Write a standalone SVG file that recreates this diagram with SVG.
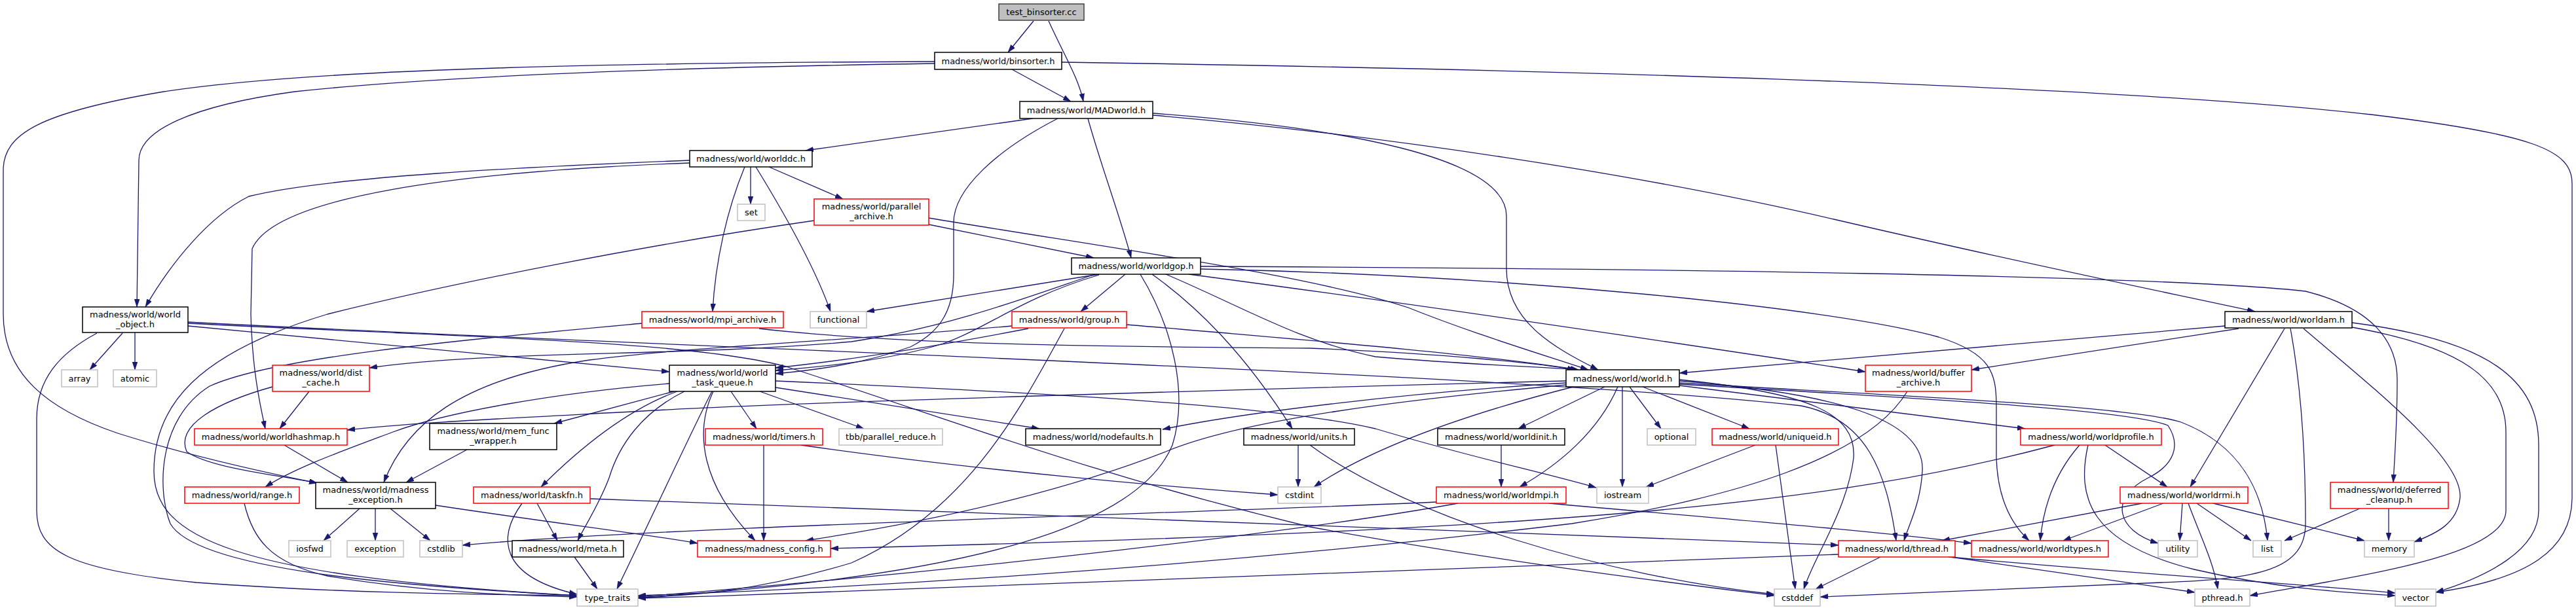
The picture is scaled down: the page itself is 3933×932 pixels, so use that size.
<svg xmlns="http://www.w3.org/2000/svg" width="3933" height="932" viewBox="0 0 3933 932">
<style>
.e{fill:none;stroke:#191970;stroke-width:1.3;marker-end:url(#a)}
.nb{fill:#fff;stroke:#000;stroke-width:1.5}
.nr{fill:#fff;stroke:#ff0000;stroke-width:1.5}
.ng{fill:#fff;stroke:#bfbfbf;stroke-width:1.5}
.nroot{fill:#bfbfbf;stroke:#404040;stroke-width:1.5}
text{font-family:"DejaVu Sans","Liberation Sans",sans-serif;font-size:13px;fill:#000;text-anchor:middle}
</style>
<defs>
<marker id="a" viewBox="0 0 12 8" refX="12" refY="4" markerWidth="12" markerHeight="8" markerUnits="userSpaceOnUse" orient="auto">
<path d="M0,0 L12,4 L0,8 z" fill="#191970" stroke="#191970" stroke-width="0.5"/>
</marker>
</defs>
<rect x="0" y="0" width="3933" height="932" fill="#fff"/>
<g id="edges">
<path class="e" d="M1578,32 L1539,80"/>
<path class="e" d="M1601,32 C1625,85 1647,120 1654,155"/>
<path class="e" d="M1545,106 L1635,155"/>
<path class="e" d="M1427,97 C1100,102 700,113 450,140 C290,162 212,200 212,245 L209,469"/>
<path class="e" d="M1427,94 C1000,96 500,102 250,140 C60,172 5,205 5,260 L5,480 C5,570 70,625 180,662 C300,700 420,725 484,738"/>
<path class="e" d="M1621,95 C2300,105 3200,128 3620,175 C3870,205 3927,230 3927,280 L3927,760 C3927,840 3860,885 3719,905"/>
<path class="e" d="M1577,181 L1230,230"/>
<path class="e" d="M1661,181 C1680,250 1710,330 1727,394"/>
<path class="e" d="M1615,181 C1520,230 1456,290 1456,340 L1456,420 C1456,480 1430,510 1390,530 C1320,555 1250,565 1184,571"/>
<path class="e" d="M1760,173 C2050,195 2300,240 2300,330 L2300,410 C2300,490 2370,530 2440,565"/>
<path class="e" d="M1760,176 C2100,205 2500,265 2800,335 C3100,405 3300,445 3443,476"/>
<path class="e" d="M1146,255 L1146,312"/>
<path class="e" d="M1174,255 L1287,304"/>
<path class="e" d="M1137,255 C1110,320 1092,400 1088,476"/>
<path class="e" d="M1154,255 C1200,330 1245,410 1268,476"/>
<path class="e" d="M1053,245 C800,255 500,270 380,300 C320,330 262,400 222,469"/>
<path class="e" d="M1053,249 C700,262 420,300 385,380 L383,480 C385,560 395,610 405,655"/>
<path class="e" d="M1418,343 L1670,394"/>
<path class="e" d="M1418,333 C1700,380 2000,420 2150,470 C2250,510 2350,540 2425,565"/>
<path class="e" d="M1243,337 C1000,372 700,430 500,480 C300,540 235,620 235,720 C235,820 350,880 881,910"/>
<path class="e" d="M1678,419 L1323,476"/>
<path class="e" d="M1672,419 C1580,450 1450,500 1300,522 C1050,545 750,535 564,562"/>
<path class="e" d="M1678,420 C1560,455 1510,500 1440,525 C1360,550 1260,560 1184,566"/>
<path class="e" d="M1718,419 L1650,476"/>
<path class="e" d="M1741,419 C1790,500 1815,600 1790,680 C1740,800 1500,880 974,913"/>
<path class="e" d="M1759,419 C1830,470 1900,540 1973,655"/>
<path class="e" d="M1780,419 C1900,470 1980,520 2100,545 C2250,558 2350,560 2410,565"/>
<path class="e" d="M1815,419 C2200,470 2600,530 2848,568"/>
<path class="e" d="M1833,407 C2500,410 3300,420 3520,445 C3620,470 3660,520 3660,580 C3660,650 3656,700 3654,737"/>
<path class="e" d="M1833,411 C2300,420 2800,470 2960,515 C3040,540 3048,570 3048,620 L3048,700 C3050,760 3070,800 3098,826"/>
<path class="e" d="M1720,496 C2000,520 2250,540 2410,565"/>
<path class="e" d="M1570,502 C1450,525 1300,550 1184,562"/>
<path class="e" d="M1545,498 C1300,520 1050,530 900,550 C700,580 620,650 586,737"/>
<path class="e" d="M1625,502 C1560,620 1480,780 1300,860 C1150,905 1050,910 974,913"/>
<path class="e" d="M1159,502 C1400,530 1800,530 2000,532 C2200,540 2350,555 2405,565"/>
<path class="e" d="M980,494 C700,520 420,545 320,590 C240,640 240,750 260,800 C300,870 600,895 881,910"/>
<path class="e" d="M187,509 L137,565"/>
<path class="e" d="M206,508 L206,565"/>
<path class="e" d="M148,509 C90,540 56,580 56,640 L56,780 C56,840 100,870 300,890 C500,905 700,908 881,910"/>
<path class="e" d="M287,498 L1022,568"/>
<path class="e" d="M287,492 C1000,530 2300,570 2750,620 C2850,640 2880,720 2895,826"/>
<path class="e" d="M287,494 C700,515 1050,520 1200,560 C1450,640 1650,720 2000,805 C2300,860 2550,890 2709,910"/>
<path class="e" d="M472,598 L427,655"/>
<path class="e" d="M416,591 C330,615 268,650 285,690 C320,715 420,725 484,738"/>
<path class="e" d="M434,680 L531,737"/>
<path class="e" d="M713,687 L620,737"/>
<path class="e" d="M373,769 C385,820 410,860 500,880 C650,905 780,910 881,912"/>
<path class="e" d="M549,777 L494,826"/>
<path class="e" d="M573,777 L573,826"/>
<path class="e" d="M596,777 L657,826"/>
<path class="e" d="M665,772 C850,800 980,815 1065,830"/>
<path class="e" d="M820,769 L851,826"/>
<path class="e" d="M797,769 C760,820 760,880 881,908"/>
<path class="e" d="M901,762 C1500,785 2400,815 2807,833"/>
<path class="e" d="M877,851 L912,900"/>
<path class="e" d="M1022,586 C850,600 680,630 600,660 C520,690 450,715 405,744"/>
<path class="e" d="M1029,598 L846,647"/>
<path class="e" d="M1034,598 C960,625 890,680 826,744"/>
<path class="e" d="M1045,598 C980,630 945,680 930,730 C915,770 895,800 882,826"/>
<path class="e" d="M1087,598 C1060,650 1000,780 942,900"/>
<path class="e" d="M1089,598 C1060,660 1070,740 1153,826"/>
<path class="e" d="M1116,598 L1155,655"/>
<path class="e" d="M1160,598 L1319,655"/>
<path class="e" d="M1184,592 L1587,655"/>
<path class="e" d="M1184,582 C1600,600 1950,620 2100,655 C2250,700 2350,720 2437,745"/>
<path class="e" d="M1166,680 L1166,826"/>
<path class="e" d="M1223,680 C1500,720 1800,745 1951,756"/>
<path class="e" d="M1982,680 L1982,744"/>
<path class="e" d="M2000,680 C2150,790 2450,880 2709,908"/>
<path class="e" d="M2450,591 L2318,655"/>
<path class="e" d="M2470,591 C2440,660 2380,710 2320,744"/>
<path class="e" d="M2477,591 L2477,744"/>
<path class="e" d="M2488,591 L2536,655"/>
<path class="e" d="M2508,591 L2671,655"/>
<path class="e" d="M2564,580 C2760,600 2835,630 2830,700 C2820,780 2770,850 2754,900"/>
<path class="e" d="M2564,582 C2800,600 2940,640 2935,720 C2932,770 2915,800 2907,826"/>
<path class="e" d="M2564,585 C2900,605 3250,620 3330,645 C3420,680 3455,750 3462,826"/>
<path class="e" d="M2564,587 C2900,607 3250,625 3310,650 C3330,680 3320,710 3280,730 C3220,760 3230,810 3295,830"/>
<path class="e" d="M2564,589 L3092,655"/>
<path class="e" d="M2391,582 C2000,592 1200,615 1000,627 C800,638 620,646 530,657"/>
<path class="e" d="M2391,585 C2150,600 1900,630 1775,656"/>
<path class="e" d="M2391,588 C2150,610 1900,640 1780,690 C1600,760 1400,800 1230,826"/>
<path class="e" d="M2402,591 C2250,630 2100,680 2006,744"/>
<path class="e" d="M2292,680 L2292,744"/>
<path class="e" d="M2680,680 L2513,744"/>
<path class="e" d="M2711,680 L2741,900"/>
<path class="e" d="M2193,767 C1800,785 1000,805 706,833"/>
<path class="e" d="M2226,769 C2000,810 1500,870 974,912"/>
<path class="e" d="M2365,769 C2600,790 2850,810 3010,830"/>
<path class="e" d="M3137,680 C2800,770 2400,810 1268,838"/>
<path class="e" d="M3175,680 C3140,720 3120,770 3115,826"/>
<path class="e" d="M3188,680 C3170,760 3190,830 3350,870 C3480,900 3580,905 3657,910"/>
<path class="e" d="M3214,680 L3309,744"/>
<path class="e" d="M3271,769 L2965,826"/>
<path class="e" d="M3303,769 L3150,826"/>
<path class="e" d="M3332,769 L3328,826"/>
<path class="e" d="M3341,769 C3360,820 3380,860 3386,900"/>
<path class="e" d="M3354,769 L3437,826"/>
<path class="e" d="M3379,769 L3610,826"/>
<path class="e" d="M3603,777 L3488,826"/>
<path class="e" d="M3647,777 L3647,826"/>
<path class="e" d="M3397,498 L2564,570"/>
<path class="e" d="M3418,502 L3010,565"/>
<path class="e" d="M3488,502 L3344,744"/>
<path class="e" d="M3497,502 C3515,600 3520,700 3520,800 C3520,870 3450,885 3300,890 C3100,900 2900,906 2779,912"/>
<path class="e" d="M3517,502 C3620,590 3760,700 3756,760 C3752,800 3720,815 3686,828"/>
<path class="e" d="M3591,500 C3760,530 3826,580 3826,660 L3826,780 C3826,850 3600,880 3435,910"/>
<path class="e" d="M3591,493 C3800,520 3876,580 3876,680 L3876,780 C3876,840 3800,880 3719,905"/>
<path class="e" d="M2871,851 L2772,900"/>
<path class="e" d="M2807,847 C2000,875 1500,900 974,914"/>
<path class="e" d="M2978,851 L3351,905"/>
<path class="e" d="M2975,851 C3300,880 3550,895 3657,906"/>
<path class="e" d="M2912,598 C2850,700 2650,760 2400,800 C1900,860 1400,895 974,910"/>
</g>
<g id="nodes">
<g id="n_test_binsorter"><rect class="nroot" x="1525" y="6" width="130" height="25"/><text x="1590" y="23">test_binsorter.cc</text></g>
<g id="n_binsorter"><rect class="nb" x="1427" y="80" width="194" height="26"/><text x="1524" y="97.5">madness/world/binsorter.h</text></g>
<g id="n_MADworld"><rect class="nb" x="1557" y="155" width="203" height="26"/><text x="1658.5" y="172.5">madness/world/MADworld.h</text></g>
<g id="n_worlddc"><rect class="nb" x="1053" y="230" width="187" height="25"/><text x="1146.5" y="247">madness/world/worlddc.h</text></g>
<g id="n_set"><rect class="ng" x="1126" y="312" width="42" height="25"/><text x="1147" y="329">set</text></g>
<g id="n_parallel_archive"><rect class="nr" x="1243" y="304" width="175" height="40"/><text x="1330.5" y="320">madness/world/parallel</text><text x="1330.5" y="335">_archive.h</text></g>
<g id="n_worldgop"><rect class="nb" x="1636" y="394" width="197" height="25"/><text x="1734.5" y="411">madness/world/worldgop.h</text></g>
<g id="n_world_object"><rect class="nb" x="126" y="469" width="161" height="39"/><text x="206.5" y="485">madness/world/world</text><text x="206.5" y="500">_object.h</text></g>
<g id="n_array"><rect class="ng" x="94" y="565" width="55" height="26"/><text x="121.5" y="582.5">array</text></g>
<g id="n_atomic"><rect class="ng" x="173" y="565" width="66" height="26"/><text x="206" y="582.5">atomic</text></g>
<g id="n_mpi_archive"><rect class="nr" x="980" y="476" width="216" height="25"/><text x="1088" y="493">madness/world/mpi_archive.h</text></g>
<g id="n_functional"><rect class="ng" x="1237" y="476" width="86" height="25"/><text x="1280" y="493">functional</text></g>
<g id="n_group"><rect class="nr" x="1545" y="476" width="175" height="25"/><text x="1632.5" y="493">madness/world/group.h</text></g>
<g id="n_worldam"><rect class="nb" x="3397" y="476" width="194" height="25"/><text x="3494" y="493">madness/world/worldam.h</text></g>
<g id="n_dist_cache"><rect class="nr" x="416" y="558" width="148" height="40"/><text x="490" y="574">madness/world/dist</text><text x="490" y="589">_cache.h</text></g>
<g id="n_world_task_queue"><rect class="nb" x="1022" y="558" width="162" height="40"/><text x="1103" y="574">madness/world/world</text><text x="1103" y="589">_task_queue.h</text></g>
<g id="n_world"><rect class="nb" x="2391" y="565" width="173" height="26"/><text x="2477.5" y="582.5">madness/world/world.h</text></g>
<g id="n_buffer_archive"><rect class="nr" x="2848" y="558" width="162" height="40"/><text x="2929" y="574">madness/world/buffer</text><text x="2929" y="589">_archive.h</text></g>
<g id="n_worldhashmap"><rect class="nr" x="297" y="655" width="233" height="25"/><text x="413.5" y="672">madness/world/worldhashmap.h</text></g>
<g id="n_mem_func_wrapper"><rect class="nb" x="656" y="647" width="194" height="40"/><text x="753" y="663">madness/world/mem_func</text><text x="753" y="678">_wrapper.h</text></g>
<g id="n_timers"><rect class="nr" x="1077" y="655" width="179" height="25"/><text x="1166.5" y="672">madness/world/timers.h</text></g>
<g id="n_parallel_reduce"><rect class="ng" x="1281" y="655" width="158" height="25"/><text x="1360" y="672">tbb/parallel_reduce.h</text></g>
<g id="n_nodefaults"><rect class="nb" x="1566" y="655" width="206" height="25"/><text x="1669" y="672">madness/world/nodefaults.h</text></g>
<g id="n_units"><rect class="nb" x="1899" y="655" width="169" height="25"/><text x="1983.5" y="672">madness/world/units.h</text></g>
<g id="n_worldinit"><rect class="nb" x="2195" y="655" width="194" height="25"/><text x="2292" y="672">madness/world/worldinit.h</text></g>
<g id="n_optional"><rect class="ng" x="2515" y="655" width="74" height="25"/><text x="2552" y="672">optional</text></g>
<g id="n_uniqueid"><rect class="nr" x="2614" y="655" width="193" height="25"/><text x="2710.5" y="672">madness/world/uniqueid.h</text></g>
<g id="n_worldprofile"><rect class="nr" x="3085" y="655" width="215" height="25"/><text x="3192.5" y="672">madness/world/worldprofile.h</text></g>
<g id="n_range"><rect class="nr" x="282" y="744" width="175" height="25"/><text x="369.5" y="761">madness/world/range.h</text></g>
<g id="n_madness_exception"><rect class="nb" x="482" y="737" width="183" height="40"/><text x="573.5" y="753">madness/world/madness</text><text x="573.5" y="768">_exception.h</text></g>
<g id="n_taskfn"><rect class="nr" x="723" y="744" width="178" height="25"/><text x="812" y="761">madness/world/taskfn.h</text></g>
<g id="n_cstdint"><rect class="ng" x="1951" y="744" width="66" height="25"/><text x="1984" y="761">cstdint</text></g>
<g id="n_worldmpi"><rect class="nr" x="2193" y="744" width="198" height="25"/><text x="2292" y="761">madness/world/worldmpi.h</text></g>
<g id="n_iostream"><rect class="ng" x="2438" y="744" width="79" height="25"/><text x="2477.5" y="761">iostream</text></g>
<g id="n_worldrmi"><rect class="nr" x="3237" y="744" width="195" height="25"/><text x="3334.5" y="761">madness/world/worldrmi.h</text></g>
<g id="n_deferred_cleanup"><rect class="nr" x="3558" y="737" width="180" height="40"/><text x="3648" y="753">madness/world/deferred</text><text x="3648" y="768">_cleanup.h</text></g>
<g id="n_iosfwd"><rect class="ng" x="441" y="826" width="64" height="25"/><text x="473" y="843">iosfwd</text></g>
<g id="n_exception"><rect class="ng" x="530" y="826" width="86" height="25"/><text x="573" y="843">exception</text></g>
<g id="n_cstdlib"><rect class="ng" x="641" y="826" width="65" height="25"/><text x="673.5" y="843">cstdlib</text></g>
<g id="n_meta"><rect class="nb" x="782" y="826" width="170" height="25"/><text x="867" y="843">madness/world/meta.h</text></g>
<g id="n_madness_config"><rect class="nr" x="1065" y="826" width="203" height="25"/><text x="1166.5" y="843">madness/madness_config.h</text></g>
<g id="n_thread"><rect class="nr" x="2807" y="826" width="178" height="25"/><text x="2896" y="843">madness/world/thread.h</text></g>
<g id="n_worldtypes"><rect class="nr" x="3010" y="826" width="209" height="25"/><text x="3114.5" y="843">madness/world/worldtypes.h</text></g>
<g id="n_utility"><rect class="ng" x="3295" y="826" width="60" height="25"/><text x="3325" y="843">utility</text></g>
<g id="n_list"><rect class="ng" x="3440" y="826" width="43" height="25"/><text x="3461.5" y="843">list</text></g>
<g id="n_memory"><rect class="ng" x="3610" y="826" width="76" height="25"/><text x="3648" y="843">memory</text></g>
<g id="n_type_traits"><rect class="ng" x="881" y="900" width="93" height="26"/><text x="927.5" y="917.5">type_traits</text></g>
<g id="n_cstddef"><rect class="ng" x="2709" y="900" width="70" height="26"/><text x="2744" y="917.5">cstddef</text></g>
<g id="n_pthread"><rect class="ng" x="3351" y="900" width="84" height="26"/><text x="3393" y="917.5">pthread.h</text></g>
<g id="n_vector"><rect class="ng" x="3657" y="900" width="62" height="26"/><text x="3688" y="917.5">vector</text></g>
</g>
</svg>
